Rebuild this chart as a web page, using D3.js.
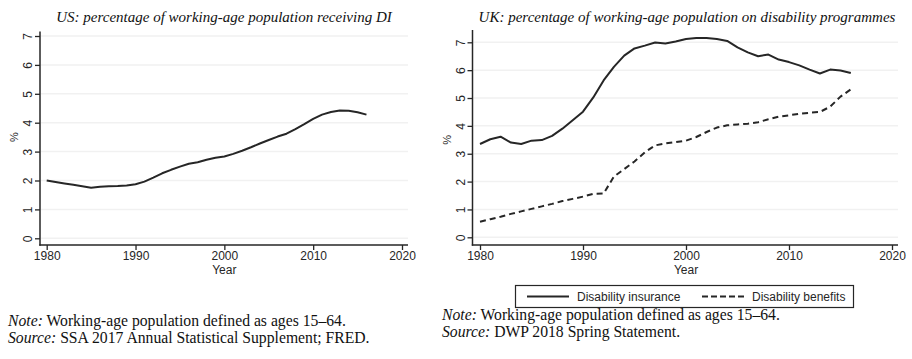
<!DOCTYPE html>
<html>
<head>
<meta charset="utf-8">
<script src="https://cdn.jsdelivr.net/npm/d3@7"></script>
<style>
  body { margin: 0; background: #fff; }
  svg { display: block; }
</style>
</head>
<body>
<script>
var w = 912;
var h = 359;

// data
var years = d3.range(1980, 2017);
var usDI = [2.0, 1.95, 1.9, 1.85, 1.8, 1.75, 1.78, 1.8, 1.81, 1.83, 1.87, 1.96, 2.1, 2.25, 2.37,
    2.48, 2.58, 2.63, 2.72, 2.79, 2.83, 2.92, 3.03, 3.15, 3.28, 3.4, 3.52, 3.62, 3.78, 3.95,
    4.13, 4.28, 4.37, 4.42, 4.41, 4.36, 4.28];
var ukInsurance = [3.35, 3.52, 3.61, 3.4, 3.35, 3.47, 3.49, 3.64, 3.9, 4.2, 4.51, 5.02, 5.63, 6.12, 6.52,
    6.78, 6.88, 6.99, 6.96, 7.03, 7.12, 7.15, 7.15, 7.12, 7.05, 6.82, 6.64, 6.5, 6.56, 6.38,
    6.29, 6.17, 6.02, 5.88, 6.02, 5.99, 5.9];
var ukBenefits = [0.56, 0.65, 0.74, 0.84, 0.93, 1.02, 1.11, 1.2, 1.3, 1.38, 1.46, 1.56, 1.57, 2.18, 2.45,
    2.72, 3.05, 3.3, 3.37, 3.42, 3.47, 3.6, 3.78, 3.94, 4.02, 4.05, 4.08, 4.13, 4.24, 4.33,
    4.38, 4.43, 4.47, 4.5, 4.69, 5.05, 5.31];
var xTicks = [1980, 1990, 2000, 2010, 2020];
var yTicks = [0, 1, 2, 3, 4, 5, 6, 7];
var legendLabels = ["Disability insurance", "Disability benefits"];

var sans = "'Liberation Sans', Arial, sans-serif";
var serif = "'Liberation Serif', 'Times New Roman', serif";
var ink = "#262626";

var svg = d3.select("body").append("svg").attr("width", w).attr("height", h);

function panel(opt) {
    var g = svg.append("g");
    var x = d3.scaleLinear().domain([1980, 2020]).range(opt.xr);
    var y = d3.scaleLinear().domain([0, 7]).range(opt.yr);

    // grid
    g.selectAll(".grid").data(yTicks).enter().append("line")
        .attr("x1", opt.axisX + 1).attr("x2", opt.right)
        .attr("y1", d => y(d)).attr("y2", d => y(d))
        .attr("stroke", "#f1f1f1").attr("stroke-width", 1.5);

    var yAxis = d3.axisLeft(y).tickValues(yTicks).tickFormat(d3.format("d")).tickSize(5).tickSizeOuter(0);
    var ya = g.append("g").attr("transform", "translate(" + opt.axisX + ",0)").call(yAxis);
    ya.select(".domain").remove();
    ya.selectAll("line").attr("stroke", ink).attr("stroke-width", 1.3);
    ya.selectAll("text")
        .attr("transform", "rotate(-90)")
        .attr("x", 0).attr("y", -8).attr("dy", 0)
        .style("text-anchor", "middle")
        .attr("font-family", sans).attr("font-size", "12px").attr("fill", ink);

    var xAxis = d3.axisBottom(x).tickValues(xTicks).tickFormat(d3.format("d")).tickSize(5).tickSizeOuter(0);
    var xa = g.append("g").attr("transform", "translate(0," + opt.axisY + ")").call(xAxis);
    xa.select(".domain").remove();
    xa.selectAll("line").attr("stroke", ink).attr("stroke-width", 1.3);
    xa.selectAll("text").attr("y", 6).attr("dy", "0.71em")
        .attr("font-family", sans).attr("font-size", "12px").attr("fill", ink);

    // axis lines
    g.append("line").attr("x1", opt.axisX).attr("x2", opt.axisX)
        .attr("y1", opt.top).attr("y2", opt.axisY + 0.7)
        .attr("stroke", ink).attr("stroke-width", 1.5);
    g.append("line").attr("x1", opt.axisX - 0.7).attr("x2", opt.right)
        .attr("y1", opt.axisY).attr("y2", opt.axisY)
        .attr("stroke", ink).attr("stroke-width", 1.5);

    // axis titles
    g.append("text").text("%")
        .attr("transform", "translate(" + opt.pctX + "," + y(3.5) + ") rotate(-90)")
        .attr("text-anchor", "middle")
        .attr("font-family", sans).attr("font-size", "11px").attr("fill", ink);
    g.append("text").text("Year")
        .attr("x", (x(1980) + x(2020)) / 2).attr("y", 274)
        .attr("text-anchor", "middle")
        .attr("font-family", sans).attr("font-size", "12px").attr("fill", ink);

    // title
    g.append("text").text(opt.title)
        .attr("x", opt.titleX).attr("y", 22)
        .attr("text-anchor", "middle")
        .attr("font-family", serif).attr("font-style", "italic")
        .attr("font-size", "15px").attr("fill", "#111");

    var line = d3.line().x((d, i) => x(years[i])).y(d => y(d));
    opt.series.forEach(s => {
        g.append("path").datum(s.values)
            .attr("d", line)
            .attr("fill", "none")
            .attr("stroke", ink)
            .attr("stroke-width", 2)
            .attr("stroke-linejoin", "round")
            .attr("stroke-dasharray", s.dash);
    });

    // notes
    var nt = g.append("text").attr("font-family", serif).attr("font-size", "15.7px").attr("fill", "#111");
    nt.append("tspan").attr("x", opt.noteX).attr("y", opt.noteY).attr("font-style", "italic").text("Note:");
    nt.append("tspan").text(" Working-age population defined as ages 15\u201364.");
    var st = g.append("text").attr("font-family", serif).attr("font-size", "15.7px").attr("fill", "#111");
    st.append("tspan").attr("x", opt.noteX).attr("y", opt.noteY + 17).attr("font-style", "italic").text("Source:");
    st.append("tspan").text(" " + opt.source);
}

panel({
    xr: [46.7, 402], yr: [238.3, 36], axisX: 40, axisY: 245, top: 31.5, right: 408,
    pctX: 18, titleX: 224, title: "US: percentage of working-age population receiving DI",
    series: [{ values: usDI, dash: null }],
    noteX: 8, noteY: 326, source: "SSA 2017 Annual Statistical Supplement; FRED."
});

panel({
    xr: [480, 892], yr: [237.3, 42.3], axisX: 472.5, axisY: 245, top: 30, right: 898,
    pctX: 451, titleX: 687, title: "UK: percentage of working-age population on disability programmes",
    series: [{ values: ukInsurance, dash: null }, { values: ukBenefits, dash: "6,4" }],
    noteX: 442, noteY: 320, source: "DWP 2018 Spring Statement."
});

// legend
var lg = svg.append("g");
lg.append("rect").attr("x", 515.5).attr("y", 285.5).attr("width", 338).attr("height", 22)
    .attr("fill", "#fff").attr("stroke", ink).attr("stroke-width", 1.2);
var legendItems = [{ x: 527, dash: null }, { x: 702, dash: "6,3" }];
legendItems.forEach((d, i) => {
    lg.append("line").attr("x1", d.x).attr("x2", d.x + 42).attr("y1", 296.5).attr("y2", 296.5)
        .attr("stroke", ink).attr("stroke-width", 2).attr("stroke-dasharray", d.dash);
    lg.append("text").text(legendLabels[i])
        .attr("x", d.x + 50).attr("y", 301)
        .attr("font-family", sans).attr("font-size", "12px").attr("fill", ink);
});
</script>
</body>
</html>
